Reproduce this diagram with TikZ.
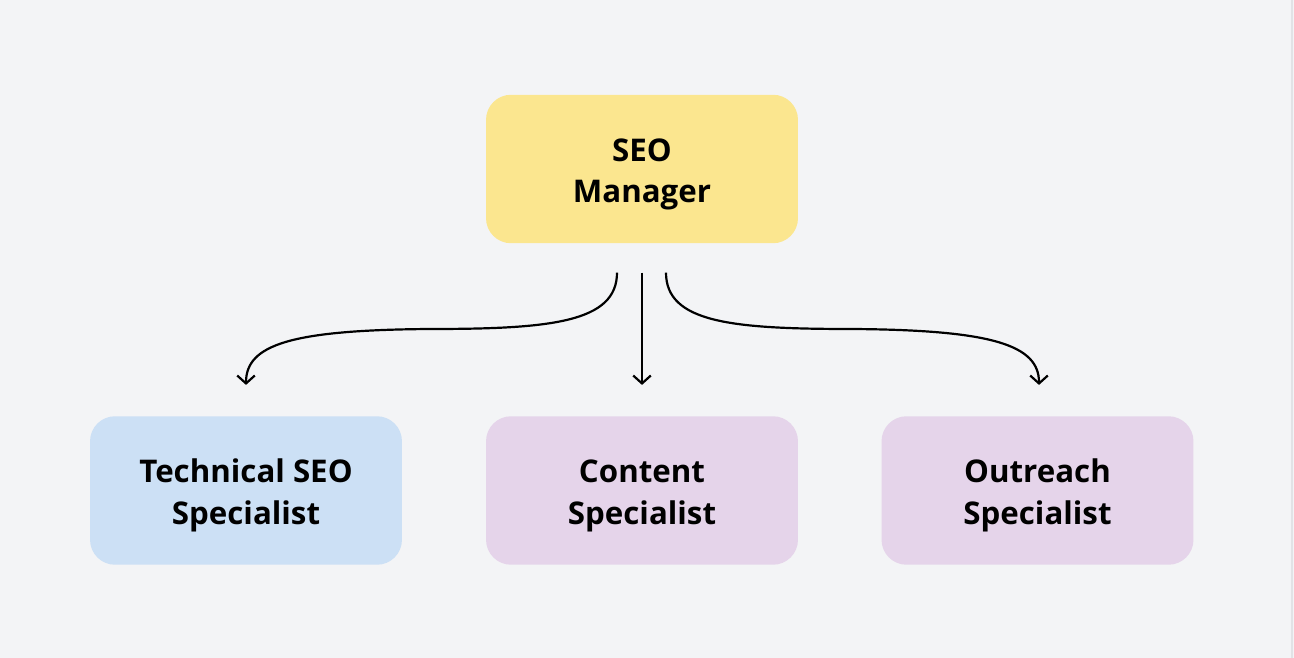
\documentclass[tikz,border=0pt]{standalone}
\usepackage{fontspec}
\setmainfont{Open Sans}
\usetikzlibrary{arrows.meta}
\definecolor{bg}{HTML}{F3F4F6}
\definecolor{mgrfill}{HTML}{FBE68F}
\definecolor{techfill}{HTML}{CCE0F5}
\definecolor{purplefill}{HTML}{E5D4EA}
\definecolor{edge}{HTML}{E2E3E6}
\newcommand\twolines[2]{\raisebox{0pt}[\dimexpr\height+5.4pt\relax][\depth]{\begin{tabular}{@{}c@{}}#1\\#2\end{tabular}}}
\tikzset{
  box/.style={rounded corners=0.5cm, minimum width=6.24cm, minimum height=2.97cm,
    align=center, font=\fontsize{17.8}{23.6}\selectfont\bfseries, inner sep=0pt},
  conn/.style={line width=1.25pt, -{Straight Barb[length=4.5pt,width=10pt,line width=1.25pt]}}
}
\begin{document}
\begin{tikzpicture}[x=0.02cm,y=-0.02cm]
\fill[bg] (0,0) rectangle (1294,658);
\useasboundingbox (0,0) rectangle (1294,658);
\draw[edge, line width=1pt] (1292,0) -- (1292,658);
\node[box, fill=mgrfill] (mgr) at (642,169) {\twolines{SEO}{Manager}};
\node[box, fill=techfill] (tech) at (246,490.5) {\twolines{Technical SEO}{Specialist}};
\node[box, fill=purplefill] (cont) at (642,490.5) {\twolines{Content}{Specialist}};
\node[box, fill=purplefill] (outr) at (1037.5,490.5) {\twolines{Outreach}{Specialist}};
\coordinate (sL) at ([xshift=-0.5cm,yshift=-0.58cm]mgr.south);
\coordinate (sC) at ([yshift=-0.58cm]mgr.south);
\coordinate (sR) at ([xshift=0.48cm,yshift=-0.58cm]mgr.south);
\coordinate (eL) at ([yshift=0.62cm]tech.north);
\coordinate (eC) at ([yshift=0.62cm]cont.north);
\coordinate (eR) at ([xshift=0.03cm,yshift=0.62cm]outr.north);
\draw[conn] (sL) .. controls +(0,50) and +(120,0) .. (430,329) .. controls +(-140,1) and +(0,-40) .. (eL);
\draw[conn] (sC) -- (eC);
\draw[conn] (sR) .. controls +(0,50) and +(-120,0) .. (852,329) .. controls +(140,1) and +(0,-40) .. (eR);
\end{tikzpicture}
\end{document}
